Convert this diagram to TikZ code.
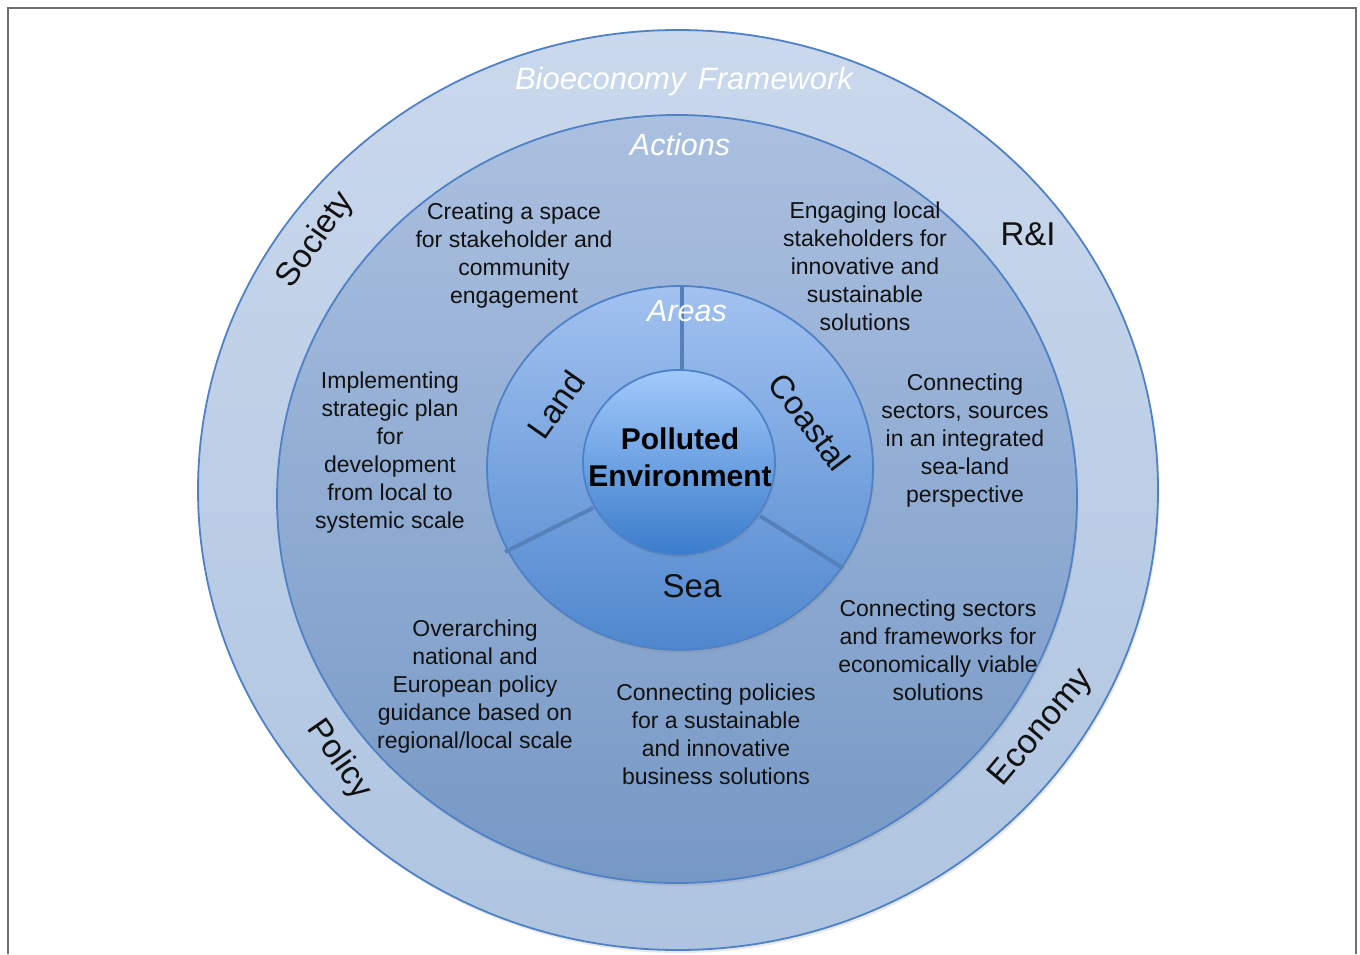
\documentclass[tikz,border=0pt]{standalone}
\usepackage{fontspec}
\setmainfont{Liberation Sans}
\usetikzlibrary{shapes.geometric,shadows}
\definecolor{ringline}{HTML}{4F81C7}
\definecolor{divline}{HTML}{5580BA}
\definecolor{outerTop}{HTML}{CAD8EC}
\definecolor{outerBot}{HTML}{AEC4E0}
\definecolor{midTop}{HTML}{ABC0E0}
\definecolor{midBot}{HTML}{7698C5}
\definecolor{areaTop}{HTML}{A2C2F0}
\definecolor{areaBot}{HTML}{4F87CE}
\definecolor{coreTop}{HTML}{A2C9FB}
\definecolor{coreBot}{HTML}{3A7CCB}
\definecolor{framegray}{HTML}{6E6E6E}
\definecolor{txt}{HTML}{111111}
\begin{document}
\begin{tikzpicture}[x=1pt,y=-1pt,
  disc/.style={ellipse, inner sep=0pt, draw=ringline, line width=1.8pt},
  softshadow/.style={drop shadow={opacity=0.18, shadow xshift=1.5pt, shadow yshift=-3pt}},
  body/.style={font=\fontsize{23}{28}\selectfont, align=center, text=txt, inner sep=0pt},
  ital/.style={font=\fontsize{30.5}{32}\selectfont\itshape, text=white, inner sep=0pt},
  big/.style={font=\fontsize{33}{36}\selectfont, text=txt, inner sep=0pt},
  divider/.style={draw=divline, line width=4pt}]
\useasboundingbox (0,0) rectangle (1360,954);
% frame
\draw[framegray, line width=2pt] (8,954) coordinate (fbl) -- (8,8) -- (1356,8) -- (1356,954);
% discs
\node[disc, softshadow, minimum width=960pt, minimum height=920pt, top color=outerTop, bottom color=outerBot] (outer) at (678,490) {};
\node[disc, softshadow, minimum width=800pt, minimum height=768pt, top color=midTop, bottom color=midBot] (actions) at (677,499) {};
\node[disc, softshadow, minimum width=386pt, minimum height=364pt, top color=areaTop, bottom color=areaBot] (areas) at (680,468) {};
% dividers
\coordinate (d1a) at (682,286);
\coordinate (d1b) at (682,371);
\coordinate (d2a) at (505,552);
\coordinate (d2b) at (593,508);
\coordinate (d3a) at (843,568);
\coordinate (d3b) at (760,516);
\draw[divider] (d1a) -- (d1b);
\draw[divider] (d2a) -- (d2b);
\draw[divider] (d3a) -- (d3b);
\node[disc, softshadow, minimum width=192pt, minimum height=185pt, top color=coreTop, bottom color=coreBot] (core) at (679,462.5) {};
% titles
\node[ital, font=\fontsize{31}{32}\selectfont\itshape] (tBio) at (684,81) {Bioeconomy\hspace{0.4em}Framework};
\node[ital] (tAct) at (680,145) {Actions};
\node[ital] (tAreas) at (687,311) {Areas};
% core text
\node[font=\fontsize{30}{37}\selectfont\bfseries, align=center, text=black, inner sep=0pt] (tCore) at (680,457) {Polluted\\Environment};
% areas
\node[big, rotate=55] (tLand) at (556,405) {Land};
\node[big, rotate=-53] (tCoastal) at (810,422) {Coastal};
\node[big] (tSea) at (692,586) {Sea};
% outer labels
\node[big, rotate=55] (tSociety) at (316,240) {Society};
\node[big] (tRI) at (1028,234) {R\&I};
\node[big, rotate=-55] (tPolicy) at (339,760) {Policy};
\node[big, rotate=50, font=\fontsize{34}{36}\selectfont] (tEconomy) at (1042,728) {Economy};
% actions
\node[body] (a1) at (514,256) {Creating a space\\for stakeholder and\\community\\engagement};
\node[body] (a2) at (865,266) {Engaging local\\stakeholders for\\innovative and\\sustainable\\solutions};
\node[body] (a3) at (390,453) {Implementing\\strategic plan\\for\\development\\from local to\\systemic scale};
\node[body] (a4) at (965,441) {Connecting\\sectors, sources\\in an integrated\\sea-land\\perspective};
\node[body] (a5) at (938,650) {Connecting sectors\\and frameworks for\\economically viable\\solutions};
\node[body] (a6) at (475,687) {Overarching\\national and\\European policy\\guidance based on\\regional/local scale};
\node[body] (a7) at (716,734) {Connecting policies\\for a sustainable\\and innovative\\business solutions};
\end{tikzpicture}
\end{document}
